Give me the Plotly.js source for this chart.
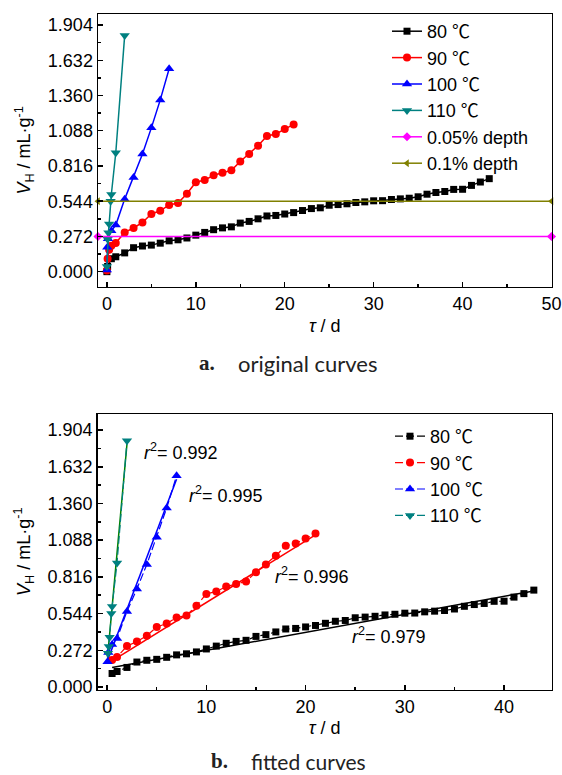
<!DOCTYPE html>
<html>
<head>
<meta charset="utf-8">
<script src="https://cdn.plot.ly/plotly-3.0.1.min.js"></script>
<style>html,body{margin:0;padding:0;background:#fff;}#chart{width:562px;height:775px;}</style>
</head>
<body>
<div id="chart"></div>
<script>
// ---- data ----
const t80 = [0,0.08,0.5,1,2,3,4,5,6,7,8,9,10,11,12,13,14,15,16,17,18,19,20,21,22,23,24,25,26,27,28,29,30,31,32,33,34,35,36,37,38,39,40,41,42,43];
const v80 = [0.00,0.04,0.10,0.115,0.145,0.185,0.198,0.205,0.22,0.238,0.246,0.26,0.282,0.303,0.324,0.338,0.346,0.375,0.388,0.408,0.43,0.434,0.445,0.456,0.472,0.487,0.493,0.513,0.518,0.524,0.534,0.539,0.547,0.548,0.557,0.562,0.567,0.578,0.598,0.611,0.619,0.635,0.636,0.666,0.692,0.718];
const t90 = [0,0.08,0.25,0.5,1,2,3,4,5,6,7,8,9,10,11,12,13,14,15,16,17,18,19,20,21];
const v90 = [0.01,0.10,0.17,0.20,0.222,0.303,0.337,0.38,0.445,0.47,0.515,0.53,0.602,0.69,0.707,0.744,0.763,0.782,0.851,0.908,0.972,1.047,1.063,1.101,1.137];
const t100 = [0,0.04,0.12,0.5,1,2,3,4,5,6,7];
const v100 = [0.013,0.188,0.255,0.315,0.36,0.56,0.727,0.908,1.11,1.326,1.566];
const t110 = [0,0.08,0.17,0.25,0.42,0.5,1,2];
const v110 = [0.04,0.25,0.30,0.368,0.544,0.596,0.918,1.824];
const depthX = [-1, 50];
const depth005 = [0.272, 0.272];
const depth01 = [0.544, 0.544];
// first index of each series shown in the fitted panel
const start80 = 2, start90 = 3, start100 = 1, start110 = 1;
// fitted lines (end points)
const fit80T = [0.5, 43], fit80V = [0.145, 0.712];
const fit90T = [0.3, 21], fit90V = [0.185, 1.127];
const fit100T = [0, 7], fit100V = [0.19, 1.54];
const fit110T = [0.04, 2], fit110V = [0.22, 1.80];
const r2Labels = ['0.992', '0.995', '0.996', '0.979'];
const r2X = [3.5, 8.0, 16.7, 24.5];
const r2Y = [1.744, 1.43, 0.83, 0.378];
const seriesNames = ['80 \u2103', '90 \u2103', '100 \u2103', '110 \u2103'];
const depthNames = ['0.05% depth', '0.1% depth'];

// ---- styles ----
const FONT = "'Liberation Sans', Arial, 'Noto Sans CJK SC', sans-serif";
const C80 = '#000000', C90 = '#ff0000', C100 = '#0000ff', C110 = '#008080', CFIT110 = '#008000';
const sty = [
  {c: C80, s: 'square', z: 7},
  {c: C90, s: 'circle', z: 8},
  {c: C100, s: 'triangle-up', z: 9},
  {c: C110, s: 'triangle-down', z: 9}
];
const T = [t80, t90, t100, t110], V = [v80, v90, v100, v110];
const S = [start80, start90, start100, start110];
const FT = [fit80T, fit90T, fit100T, fit110T], FV = [fit80V, fit90V, fit100V, fit110V];
const fitColors = [C80, C90, C100, CFIT110];

const traces = [];
for (let i = 0; i < 4; i++) {
  traces.push({
    x: T[i], y: V[i], xaxis: 'x', yaxis: 'y', name: seriesNames[i], legend: 'legend',
    mode: 'lines+markers', line: {color: sty[i].c, width: 1.5},
    marker: {symbol: sty[i].s, size: sty[i].z, color: sty[i].c}, cliponaxis: false
  });
}
traces.push({x: depthX, y: depth005, xaxis: 'x', yaxis: 'y', name: depthNames[0], legend: 'legend',
  mode: 'lines+markers', line: {color: '#ff00ff', width: 1.5},
  marker: {symbol: 'diamond', size: 7, color: '#ff00ff'}, cliponaxis: false});
traces.push({x: depthX, y: depth01, xaxis: 'x', yaxis: 'y', name: depthNames[1], legend: 'legend',
  mode: 'lines+markers', line: {color: '#808000', width: 1.5},
  marker: {symbol: 'triangle-left', size: 7, color: '#808000'}, cliponaxis: false});

for (let i = 0; i < 4; i++) {
  traces.push({
    x: FT[i], y: FV[i], xaxis: 'x2', yaxis: 'y2', showlegend: false,
    mode: 'lines', line: {color: fitColors[i], width: 1.5}, hoverinfo: 'skip'
  });
}
for (let i = 0; i < 4; i++) {
  traces.push({
    x: T[i].slice(S[i]), y: V[i].slice(S[i]), xaxis: 'x2', yaxis: 'y2', name: seriesNames[i], legend: 'legend2',
    mode: 'lines+markers', line: {color: sty[i].c, width: 1.2, dash: '8px,3px'},
    marker: {symbol: sty[i].s, size: sty[i].z, color: sty[i].c}, cliponaxis: false
  });
}

const W = 562, H = 775;
const px = v => v / W, py = v => 1 - v / H;

function xAx(domain, range, anchor) {
  return {domain: domain, range: range, anchor: anchor, tick0: 0, dtick: 10,
    ticks: 'inside', ticklen: 5, tickwidth: 1.5, tickcolor: '#000',
    minor: {dtick: 5, ticks: 'inside', ticklen: 3, tickwidth: 1.5, tickcolor: '#000'},
    showline: true, linewidth: 1.5, linecolor: '#000', mirror: true,
    showgrid: false, zeroline: false, tickfont: {family: FONT, size: 18, color: '#000'},
    title: {text: '<i>\u03c4</i> / d', font: {family: FONT, size: 18, color: '#000'}, standoff: 6}};
}
function yAx(domain, range, anchor) {
  return {domain: domain, range: range, anchor: anchor, tick0: 0, dtick: 0.272, tickformat: '.3f',
    ticks: 'inside', ticklen: 5, tickwidth: 1.5, tickcolor: '#000',
    minor: {dtick: 0.136, ticks: 'inside', ticklen: 3, tickwidth: 1.5, tickcolor: '#000'},
    showline: true, linewidth: 1.5, linecolor: '#000', mirror: true,
    showgrid: false, zeroline: false, tickfont: {family: FONT, size: 18, color: '#000'},
    title: {text: '<i>V</i><sub>H</sub> / mL\u00b7g<sup>-1</sup>', font: {family: FONT, size: 18, color: '#000'}, standoff: 12}};
}

const annotations = [];
for (let i = 0; i < 4; i++) {
  annotations.push({xref: 'x2', yref: 'y2', x: r2X[i], y: r2Y[i], xanchor: 'left', yanchor: 'middle',
    showarrow: false, text: '<i>r</i><sup>2</sup>= ' + r2Labels[i],
    font: {family: FONT, size: 18, color: '#000'}});
}
annotations.push({xref: 'paper', yref: 'paper', x: px(197), y: py(363), xanchor: 'left', yanchor: 'middle',
  showarrow: false, text: '<b>a.</b>', font: {family: "'Liberation Serif', serif", size: 21, color: '#222'}});
annotations.push({xref: 'paper', yref: 'paper', x: px(236), y: py(363), xanchor: 'left', yanchor: 'middle',
  showarrow: false, text: 'original curves', font: {family: 'Lato, sans-serif', size: 22, color: '#222'}});
annotations.push({xref: 'paper', yref: 'paper', x: px(209), y: py(761), xanchor: 'left', yanchor: 'middle',
  showarrow: false, text: '<b>b.</b>', font: {family: "'Liberation Serif', serif", size: 21, color: '#222'}});
annotations.push({xref: 'paper', yref: 'paper', x: px(249), y: py(761), xanchor: 'left', yanchor: 'middle',
  showarrow: false, text: 'fitted curves', font: {family: 'Lato, sans-serif', size: 21, color: '#222'}});

const layout = {
  width: W, height: H, margin: {l: 0, r: 0, t: 0, b: 0},
  paper_bgcolor: '#fff', plot_bgcolor: '#fff', font: {family: FONT, size: 18, color: '#000'},
  xaxis: xAx([px(98), px(551.5)], [-1, 50], 'y'),
  yaxis: yAx([py(286.7), py(14)], [-0.116, 1.989], 'x'),
  xaxis2: xAx([px(97.7), px(551.7)], [-0.95, 44.8], 'y2'),
  yaxis2: yAx([py(689.5), py(414)], [-0.0185, 2.023], 'x2'),
  legend: {x: px(387), y: py(13), xanchor: 'left', yanchor: 'top', bgcolor: 'rgba(0,0,0,0)',
    font: {family: FONT, size: 18, color: '#000'}, tracegroupgap: 0},
  legend2: {x: px(390), y: py(418), xanchor: 'left', yanchor: 'top', bgcolor: 'rgba(0,0,0,0)',
    font: {family: FONT, size: 18, color: '#000'}, tracegroupgap: 0},
  annotations: annotations,
  showlegend: true
};

Plotly.newPlot('chart', traces, layout, {staticPlot: true, displayModeBar: false});
</script>
</body>
</html>
